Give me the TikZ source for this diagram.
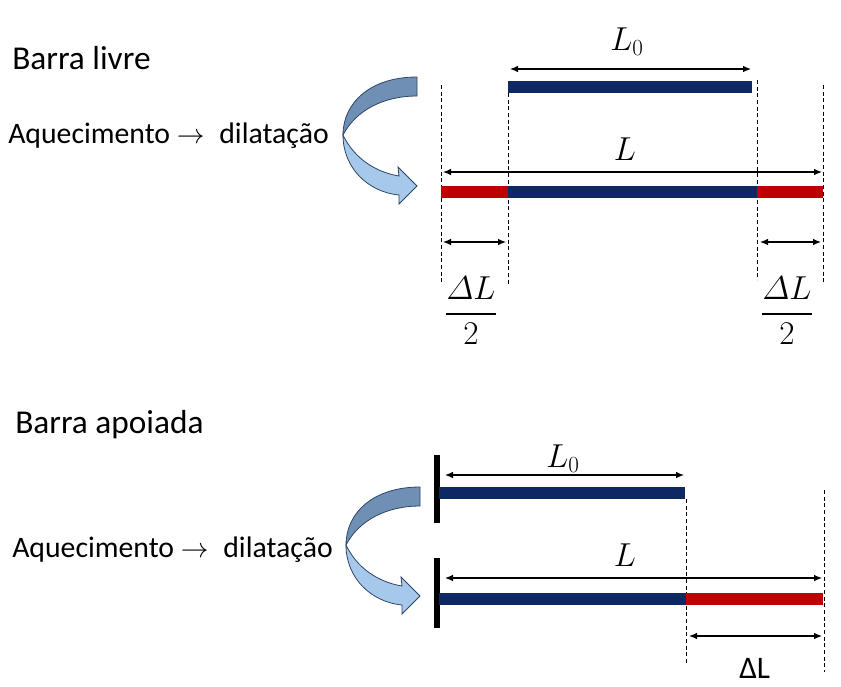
\documentclass[tikz,border=0pt]{standalone}
\usepackage{amsmath,amssymb}
\usepackage{fontspec}
\setmainfont{Carlito}
\usepackage{tikz}
\usetikzlibrary{arrows.meta}
\definecolor{barblue}{RGB}{14,40,100}
\definecolor{barred}{RGB}{192,0,0}
\definecolor{arrowdark}{RGB}{112,143,180}
\definecolor{arrowlight}{RGB}{166,200,234}
\definecolor{arrowedge}{RGB}{45,70,100}
\tikzset{
  dim/.style={{Latex[length=6pt,width=5pt]}-{Latex[length=6pt,width=5pt]}, line width=0.9pt},
  guide/.style={dashed, dash pattern=on 3pt off 2pt, line width=0.6pt},
  bar/.style={line width=9pt},
  wall/.style={line width=3.8pt},
  title/.style={font=\fontsize{25}{30}\selectfont, anchor=base west, inner sep=0pt},
  body/.style={font=\fontsize{22.3}{27}\selectfont, anchor=base west, inner sep=0pt},
  lab/.style={font=\fontsize{23}{28}\selectfont, inner sep=0pt}
}
% curved heating arrow, drawn around a shift
\newcommand{\heatarrow}[1]{%
  \begin{scope}[shift={#1}]
    \filldraw[fill=arrowlight, draw=arrowedge, line width=0.6pt]
      (343,135) .. controls (343,168) and (368,192) .. (399,195) -- (399,204)
      -- (417,186) -- (398,167) -- (399,176)
      .. controls (375,172) and (354,158) .. (343,135) -- cycle;
    \filldraw[fill=arrowdark, draw=arrowedge, line width=0.6pt]
      (417,77) .. controls (370,77) and (343,103) .. (343,135)
      .. controls (356,110) and (384,96) .. (417,96) -- cycle;
  \end{scope}}

\begin{document}
\begin{tikzpicture}[x=0.75pt, y=-0.75pt]
  \useasboundingbox (0,0) rectangle (841,686);

  % ---- Barra livre ----
  \node[title] (livre) at (12,69) {Barra livre};
  \node[body] (aquec1) at (8,143) {Aquecimento $\rightarrow$\enspace dilatação};
  \heatarrow{(0,0)}

  \coordinate (a1) at (441,85);  \coordinate (a2) at (441,283);
  \coordinate (b1) at (508,93);  \coordinate (b2) at (508,284);
  \coordinate (c1) at (757,80);  \coordinate (c2) at (757,280);
  \coordinate (d1) at (823,85);  \coordinate (d2) at (823,282);
  \foreach \p in {a,b,c,d} \draw[guide] (\p1) -- (\p2);

  \draw[bar, barblue] (508,87) coordinate (barL) -- (752,87) coordinate (barR);
  \draw[dim] (510,69) coordinate (lz1) -- (751,69) coordinate (lz2);
  \node[lab] (Lzero) at (627,42) {$L_0$};

  \draw[dim] (443,172) coordinate (ll1) -- (822,172) coordinate (ll2);
  \node[lab] (Lfull) at (625,149) {$L$};
  \draw[bar, barred] (441,192) -- (508,192);
  \draw[bar, barblue] (508,192) -- (757,192);
  \draw[bar, barred] (757,192) -- (823,192);

  \draw[dim] (443,242) coordinate (h1) -- (506,242) coordinate (h2);
  \draw[dim] (760,242) coordinate (h3) -- (821,242) coordinate (h4);
  \node[lab] (halfL) at (471,311) {$\displaystyle\frac{\varDelta L}{2}$};
  \node[lab] (halfR) at (787,311) {$\displaystyle\frac{\varDelta L}{2}$};

  % ---- Barra apoiada ----
  \node[title] (apoiada) at (15,433) {Barra apoiada};
  \node[body] (aquec2) at (12,557) {Aquecimento $\rightarrow$\enspace dilatação};
  \heatarrow{(3,410)}

  \draw[wall] (437,455) coordinate (w1) -- (437,523) coordinate (w2);
  \draw[wall] (437,558) coordinate (w3) -- (437,628) coordinate (w4);

  \coordinate (e1) at (686,499); \coordinate (e2) at (686,663);
  \coordinate (f1) at (824,490); \coordinate (f2) at (824,672);
  \foreach \p in {e,f} \draw[guide] (\p1) -- (\p2);

  \draw[bar, barblue] (439,493) -- (685,493);
  \draw[dim] (445,475) coordinate (m1) -- (684,475) coordinate (m2);
  \node[lab] (Lzero2) at (563,459) {$L_0$};

  \draw[dim] (445,578) coordinate (n1) -- (822,578) coordinate (n2);
  \node[lab] (Lfull2) at (625,555) {$L$};
  \draw[bar, barblue] (439,599) -- (686,599);
  \draw[bar, barred] (686,599) -- (823,599);

  \draw[dim] (689,636) coordinate (k1) -- (822,636) coordinate (k2);
  \node[body, font=\fontsize{23.5}{28}\selectfont, text depth=0pt] (dL) at (739,678) {ΔL};
\end{tikzpicture}
\end{document}
